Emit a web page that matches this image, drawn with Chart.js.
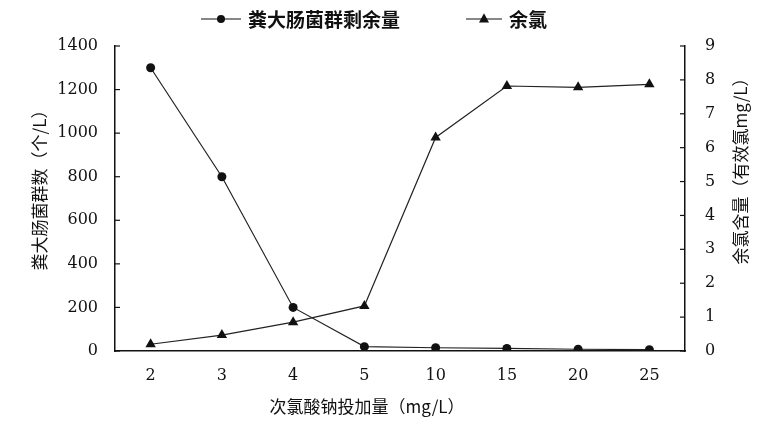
<!DOCTYPE html>
<html>
<head>
<meta charset="utf-8">
<script src="https://cdn.jsdelivr.net/npm/chart.js@4.4.1/dist/chart.umd.min.js"></script>
<style>
  html, body { margin: 0; padding: 0; background: #fff; }
  #wrap { width: 784px; height: 433px; }
</style>
</head>
<body>
<div id="wrap"><canvas id="chlorineChart" width="784" height="433"></canvas></div>
<script>
/*=========================================
DATA
=========================================*/

const doseLabels = ["2", "3", "4", "5", "10", "15", "20", "25"];

const coliValues = [1300, 800, 200, 20, 15, 12, 8, 6];

const chlorineValues = [0.2, 0.47, 0.85, 1.33, 6.3, 7.82, 7.78, 7.87];

const coliTicks = [0, 200, 400, 600, 800, 1000, 1200, 1400];

const chlorineTicks = [0, 1, 2, 3, 4, 5, 6, 7, 8, 9];

const seriesNames = ["粪大肠菌群剩余量", "余氯"];

const axisTitles = {
    x: "次氯酸钠投加量（mg/L）",
    y: "粪大肠菌群数（个/L）",
    y1: "余氯含量（有效氯mg/L）"
};

/*=========================================
STYLE
=========================================*/

const INK = "#111";
const FONT = "'DejaVu Serif', 'Liberation Serif', serif";
const CJK = "'Noto Sans CJK SC', sans-serif";

Chart.defaults.font.family = FONT;

function drawMarker(ctx, style, x, y, r) {
    ctx.beginPath();
    if (style === "circle") {
        ctx.arc(x, y, r, 0, Math.PI * 2);
    } else {
        ctx.moveTo(x, y - r * 1.15);
        ctx.lineTo(x + r, y + r * 0.7);
        ctx.lineTo(x - r, y + r * 0.7);
        ctx.closePath();
    }
    ctx.fill();
}

/*=========================================
DECORATION PLUGIN: inner ticks, titles, legend
=========================================*/

const decorPlugin = {
    id: "decor",
    afterDraw(chart) {
        const ctx = chart.ctx;
        const area = chart.chartArea;
        const yScale = chart.scales.y;
        const y1Scale = chart.scales.y1;

        ctx.save();
        ctx.strokeStyle = INK;
        ctx.lineWidth = 1.2;

        // inner tick marks
        coliTicks.forEach(v => {
            const py = yScale.getPixelForValue(v);
            ctx.beginPath();
            ctx.moveTo(area.left, py);
            ctx.lineTo(area.left + 5, py);
            ctx.stroke();
        });
        chlorineTicks.forEach(v => {
            const py = y1Scale.getPixelForValue(v);
            ctx.beginPath();
            ctx.moveTo(area.right, py);
            ctx.lineTo(area.right - 5, py);
            ctx.stroke();
        });

        // axis titles
        ctx.fillStyle = INK;
        ctx.font = "17px " + CJK;
        ctx.textAlign = "center";
        ctx.textBaseline = "middle";
        ctx.fillText(axisTitles.x, 367, 407);

        ctx.save();
        ctx.translate(40, 186);
        ctx.rotate(-Math.PI / 2);
        ctx.fillText(axisTitles.y, 0, 0);
        ctx.restore();

        ctx.save();
        ctx.translate(741, 167);
        ctx.rotate(-Math.PI / 2);
        ctx.fillText(axisTitles.y1, 0, 0);
        ctx.restore();

        // legend
        const styles = ["circle", "triangle"];
        const lineLen = [40, 36];
        ctx.font = "bold 19px " + CJK;
        ctx.textAlign = "left";
        const gap = 7;
        const itemGap = 66;
        const widths = seriesNames.map((n, i) => lineLen[i] + gap + ctx.measureText(n).width);
        const total = widths[0] + itemGap + widths[1];
        let x = 374 - total / 2;
        const ly = 19;
        seriesNames.forEach((name, i) => {
            ctx.beginPath();
            ctx.moveTo(x, ly);
            ctx.lineTo(x + lineLen[i], ly);
            ctx.stroke();
            drawMarker(ctx, styles[i], x + lineLen[i] / 2, ly, i === 0 ? 4 : 5);
            ctx.fillText(name, x + lineLen[i] + gap, ly + 1);
            x += widths[i] + itemGap;
        });

        ctx.restore();
    }
};

/*=========================================
CHART
=========================================*/

const canvas = document.getElementById("chlorineChart");

const tickFont = { family: FONT, size: 16 };

new Chart(canvas, {

    type: "line",

    data: {

        labels: doseLabels,

        datasets: [{
            label: seriesNames[0],
            data: coliValues,
            yAxisID: "y",
            borderColor: "#222",
            backgroundColor: INK,
            borderWidth: 1.2,
            pointStyle: "circle",
            pointRadius: 4.5,
            pointBorderWidth: 0,
            tension: 0
        }, {
            label: seriesNames[1],
            data: chlorineValues,
            yAxisID: "y1",
            borderColor: "#222",
            backgroundColor: INK,
            borderWidth: 1.2,
            pointStyle: "triangle",
            pointRadius: 6,
            pointBorderWidth: 0,
            tension: 0
        }]

    },

    options: {

        responsive: false,
        animation: false,
        events: [],

        layout: {
            padding: { top: 46, left: 0, right: 0, bottom: 0 }
        },

        scales: {

            x: {
                type: "category",
                offset: true,
                grid: { display: false, drawTicks: false },
                border: { display: true, color: INK, width: 1.5 },
                ticks: {
                    color: INK,
                    padding: 15,
                    font: tickFont
                },
                afterFit(scale) { scale.height = 82; }
            },

            y: {
                position: "left",
                min: 0,
                max: 1400,
                afterBuildTicks(scale) { scale.ticks = coliTicks.map(v => ({ value: v })); },
                grid: { display: false, drawTicks: false },
                border: { display: true, color: INK, width: 1.5 },
                ticks: {
                    color: INK,
                    padding: 17,
                    font: tickFont,
                    callback: value => String(value)
                },
                afterFit(scale) { scale.width = 115; }
            },

            y1: {
                position: "right",
                min: 0,
                max: 9,
                afterBuildTicks(scale) { scale.ticks = chlorineTicks.map(v => ({ value: v })); },
                grid: { display: false, drawTicks: false },
                border: { display: true, color: INK, width: 1.5 },
                ticks: {
                    color: INK,
                    padding: 20,
                    font: tickFont,
                    callback: value => String(value)
                },
                afterFit(scale) { scale.width = 99; }
            }

        },

        plugins: {
            legend: { display: false },
            tooltip: { enabled: false }
        }

    },

    plugins: [decorPlugin]

});
</script>
</body>
</html>
